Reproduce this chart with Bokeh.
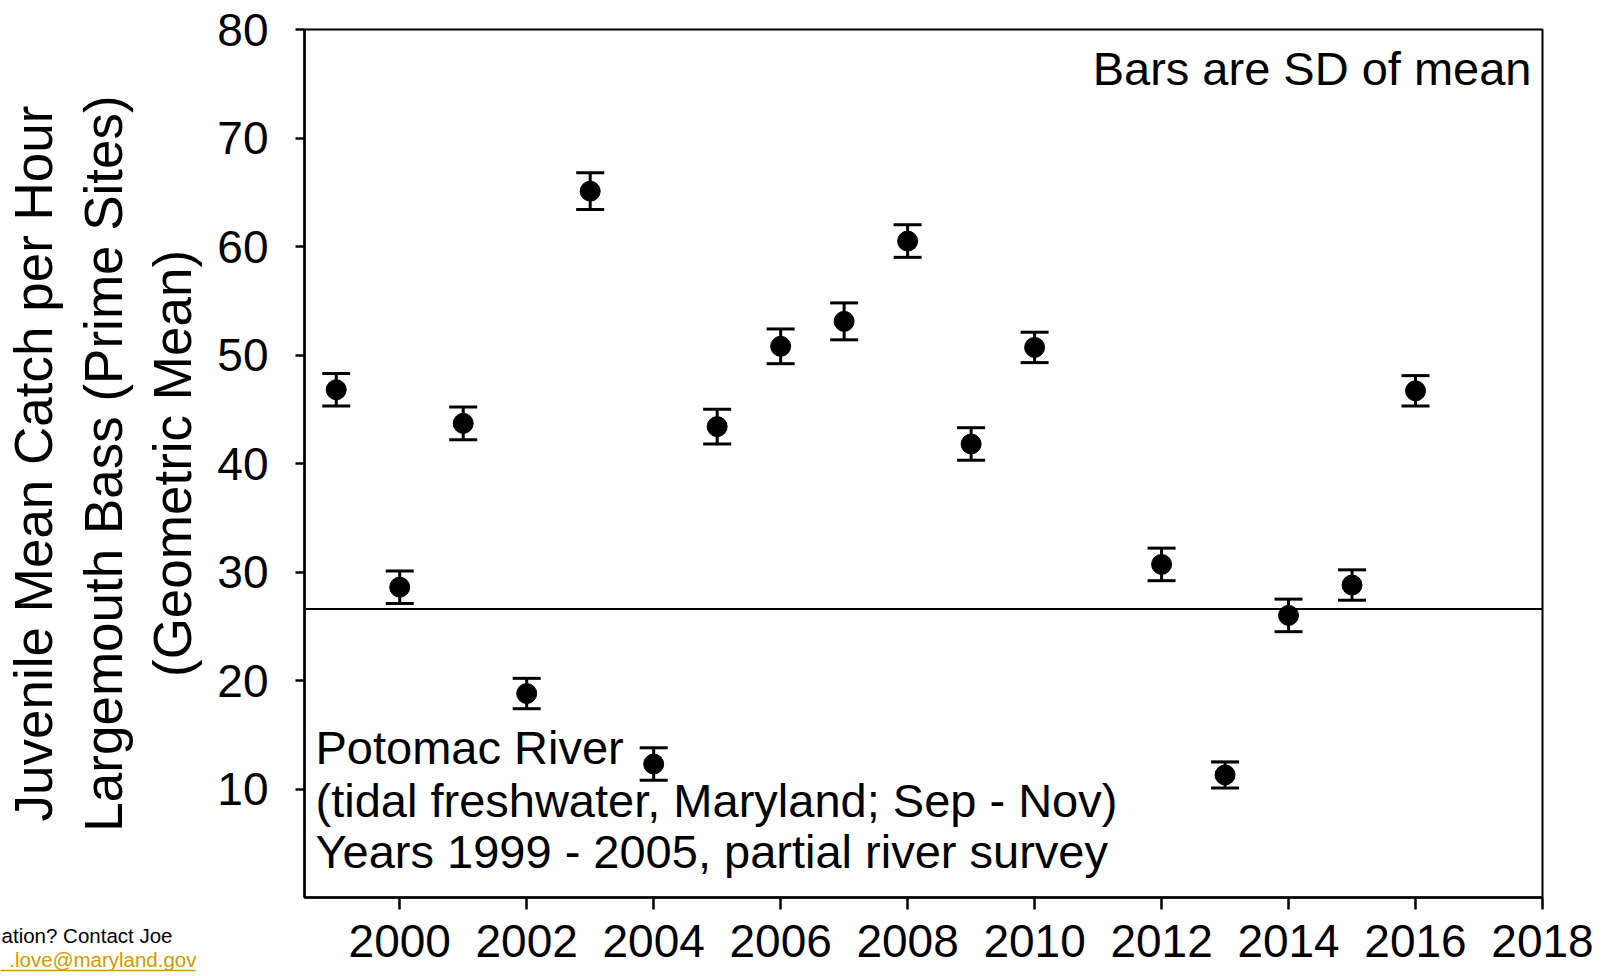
from bokeh.plotting import figure
from bokeh.models import (ColumnDataSource, Whisker, TeeHead, Span, Label,
                          FixedTicker, Range1d)
from bokeh.core.properties import value
from bokeh.embed import file_html
from bokeh.resources import INLINE

# ---- data ----
years = [1999, 2000, 2001, 2002, 2003, 2004, 2005, 2006, 2007, 2008,
         2009, 2010, 2012, 2013, 2014, 2015, 2016]
mean_cpue = [46.8, 28.6, 43.7, 18.8, 65.1, 12.3, 43.4, 50.8, 53.1, 60.5,
             41.8, 50.7, 30.7, 11.3, 26.0, 28.8, 46.7]
sd_cpue = [1.5, 1.5, 1.5, 1.4, 1.7, 1.5, 1.6, 1.6, 1.7, 1.5,
           1.5, 1.4, 1.5, 1.2, 1.5, 1.4, 1.4]
reference_level = 26.6
x_ticks = [2000, 2002, 2004, 2006, 2008, 2010, 2012, 2014, 2016, 2018]
y_ticks = [10, 20, 30, 40, 50, 60, 70, 80]

y_label = "Juvenile Mean Catch per Hour\nLargemouth Bass (Prime Sites)\n(Geometric Mean)"
note_sd = "Bars are SD of mean"
note_lines = ["Potomac River",
              "(tidal freshwater, Maryland; Sep - Nov)",
              "Years 1999 - 2005, partial river survey"]
contact_line = "ation? Contact Joe"
contact_mail = ".love@maryland.gov"

FONT = "Liberation Sans"
LINK = "#D09A00"

# ---- layout geometry (pixels) ----
W, H = 1606, 976
FL, FR, FT, FB = 304, 1542, 29, 897          # frame edges
X0, X1, Y0, Y1 = 1998.5, 2018, 0, 80

def px_to_x(px):
    return X0 + (px - FL) * (X1 - X0) / (FR - FL)

def px_to_y(py):
    return Y0 + (FB - py) * (Y1 - Y0) / (FB - FT)

src = ColumnDataSource(dict(
    year=years,
    mean=mean_cpue,
    lower=[m - s for m, s in zip(mean_cpue, sd_cpue)],
    upper=[m + s for m, s in zip(mean_cpue, sd_cpue)],
))

p = figure(width=W, height=H,
           x_range=Range1d(X0, X1), y_range=Range1d(Y0, Y1),
           output_backend="svg", toolbar_location=None,
           min_border_left=FL, min_border_right=W - FR,
           min_border_top=FT, min_border_bottom=H - FB)
p.grid.visible = False
p.background_fill_color = "white"
p.border_fill_color = "white"
p.outline_line_color = "black"
p.outline_line_width = 2

# x axis
xa = p.xaxis[0]
xa.ticker = FixedTicker(ticks=x_ticks)
xa.axis_line_width = 2.5
xa.major_tick_line_width = 2.5
xa.major_tick_out = 12
xa.major_tick_in = 0
xa.minor_tick_out = 0
xa.minor_tick_in = 0
xa.major_label_standoff = 15
xa.major_label_text_font = FONT
xa.major_label_text_font_size = "46px"
xa.major_label_text_color = "black"

# y axis
ya = p.yaxis[0]
ya.ticker = FixedTicker(ticks=y_ticks)
ya.axis_line_width = 2.5
ya.major_tick_line_width = 2.5
ya.major_tick_out = 9
ya.major_tick_in = 0
ya.minor_tick_out = 0
ya.minor_tick_in = 0
ya.major_label_standoff = 27
ya.major_label_text_font = FONT
ya.major_label_text_font_size = "46px"
ya.major_label_text_color = "black"
ya.axis_label = y_label
ya.axis_label_text_font = FONT
ya.axis_label_text_font_size = "53px"
ya.axis_label_text_font_style = "normal"
ya.axis_label_text_color = "black"
ya.axis_label_text_line_height = 1.18
ya.axis_label_standoff = 12

# reference line
p.add_layout(Span(location=reference_level, dimension="width",
                  line_color="black", line_width=2))

# error bars (SD)
head_u = TeeHead(size=28, line_width=3, line_color="black")
head_l = TeeHead(size=28, line_width=3, line_color="black")
p.add_layout(Whisker(base="year", upper="upper", lower="lower", source=src,
                     line_width=3, line_color="black",
                     upper_head=head_u, lower_head=head_l, level="glyph"))
p.scatter("year", "mean", source=src, size=20, color="black")

# annotations inside the frame (screen units relative to the frame, vertical centres)
p.add_layout(Label(x=1531 - FL, y=FB - 67.5, x_units="screen", y_units="screen",
                   text=note_sd, text_align="right", text_baseline="middle",
                   text_font=FONT, text_font_size="47px", text_color="black"))
for txt, mid in zip(note_lines, [747, 800, 851]):
    p.add_layout(Label(x=315 - FL, y=FB - mid, x_units="screen", y_units="screen",
                       text=txt, text_align="left", text_baseline="middle",
                       text_font=FONT, text_font_size="47px", text_color="black"))

# cut-off contact note in the bottom-left corner (outside the frame, overlay level)
p.text(x=[px_to_x(172)], y=[px_to_y(935)], text=[contact_line],
       text_align="right", text_baseline="middle",
       text_font=value(FONT), text_font_size=value("20.5px"),
       text_color="black", level="overlay")
p.text(x=[px_to_x(196)], y=[px_to_y(959)], text=[contact_mail],
       text_align="right", text_baseline="middle",
       text_font=value(FONT), text_font_size=value("20.5px"),
       text_color=LINK, level="overlay")
p.segment(x0=[px_to_x(0)], x1=[px_to_x(195)], y0=[px_to_y(970)], y1=[px_to_y(970)],
          line_color=LINK, line_width=1.5, level="overlay")

open("out.html", "w").write(file_html(p, INLINE))
